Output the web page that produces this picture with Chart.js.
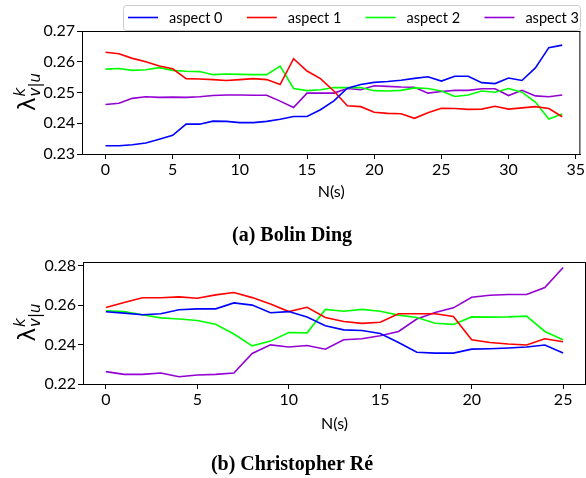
<!DOCTYPE html>
<html>
<head>
<meta charset="utf-8">
<script src="https://cdn.jsdelivr.net/npm/chart.js@4.4.0/dist/chart.umd.min.js"></script>
<style>
  body { margin: 0; background: #fff; }
  #wrap { position: relative; width: 586px; height: 478px; }
  canvas { position: absolute; left: 0; }
</style>
</head>
<body>
<div id="wrap">
  <canvas id="chart-a" width="586" height="250" style="top:0"></canvas>
  <canvas id="chart-b" width="586" height="228" style="top:250px"></canvas>
</div>
<script>
// series names + colours
const seriesLabels = ["aspect 0", "aspect 1", "aspect 2", "aspect 3"];
const seriesColors = ["#0000ff", "#ff0000", "#00ff00", "#9400d3"];

// (a) Bolin Ding, N(s) = 0..34
const dingAspect0 = [0.2327, 0.2327, 0.2330, 0.2336, 0.2348, 0.2361, 0.2397, 0.2397, 0.2407, 0.2406,
  0.2402, 0.2402, 0.2406, 0.2413, 0.2422, 0.2422, 0.2444, 0.2473, 0.2514, 0.2526,
  0.2533, 0.2536, 0.2540, 0.2546, 0.2551, 0.2537, 0.2553, 0.2553, 0.2532, 0.2529,
  0.2547, 0.2539, 0.2580, 0.2646, 0.2654];
const dingAspect1 = [0.2631, 0.2626, 0.2611, 0.2600, 0.2586, 0.2577, 0.2545, 0.2544, 0.2542, 0.2539,
  0.2542, 0.2545, 0.2542, 0.2526, 0.2610, 0.2570, 0.2545, 0.2505, 0.2457, 0.2454,
  0.2436, 0.2432, 0.2431, 0.2416, 0.2434, 0.2449, 0.2448, 0.2445, 0.2446, 0.2455,
  0.2446, 0.2450, 0.2454, 0.2448, 0.2421];
const dingAspect2 = [0.2576, 0.2578, 0.2572, 0.2574, 0.2581, 0.2572, 0.2569, 0.2568, 0.2558, 0.2560,
  0.2559, 0.2558, 0.2558, 0.2586, 0.2513, 0.2506, 0.2509, 0.2516, 0.2516, 0.2516,
  0.2506, 0.2505, 0.2507, 0.2515, 0.2513, 0.2505, 0.2487, 0.2492, 0.2505, 0.2501,
  0.2513, 0.2501, 0.2469, 0.2414, 0.2430];
const dingAspect3 = [0.2461, 0.2465, 0.2481, 0.2486, 0.2484, 0.2485, 0.2484, 0.2486, 0.2490, 0.2492,
  0.2492, 0.2491, 0.2491, 0.2472, 0.2451, 0.2498, 0.2498, 0.2498, 0.2513, 0.2509,
  0.2522, 0.2520, 0.2518, 0.2517, 0.2498, 0.2503, 0.2507, 0.2507, 0.2512, 0.2512,
  0.2490, 0.2507, 0.2489, 0.2486, 0.2492];
const dingXTicks = [0, 5, 10, 15, 20, 25, 30, 35];
const dingYTicks = [0.23, 0.24, 0.25, 0.26, 0.27];

// (b) Christopher Ré, N(s) = 0..25
const reAspect0 = [0.2567, 0.2560, 0.2552, 0.2557, 0.2577, 0.2582, 0.2582, 0.2612, 0.2601, 0.2562,
  0.2568, 0.2540, 0.2496, 0.2475, 0.2472, 0.2457, 0.2411, 0.2361, 0.2357, 0.2357,
  0.2377, 0.2379, 0.2383, 0.2388, 0.2398, 0.2357];
const reAspect1 = [0.2589, 0.2614, 0.2638, 0.2638, 0.2643, 0.2636, 0.2653, 0.2665, 0.2639, 0.2607,
  0.2568, 0.2590, 0.2538, 0.2518, 0.2508, 0.2514, 0.2557, 0.2557, 0.2557, 0.2543,
  0.2425, 0.2411, 0.2403, 0.2398, 0.2430, 0.2415];
const reAspect2 = [0.2572, 0.2568, 0.2552, 0.2536, 0.2530, 0.2523, 0.2504, 0.2454, 0.2394, 0.2418,
  0.2462, 0.2460, 0.2579, 0.2570, 0.2579, 0.2570, 0.2550, 0.2538, 0.2509, 0.2503,
  0.2541, 0.2540, 0.2541, 0.2545, 0.2467, 0.2425];
const reAspect3 = [0.2263, 0.2249, 0.2249, 0.2256, 0.2237, 0.2246, 0.2249, 0.2256, 0.2355, 0.2399,
  0.2388, 0.2396, 0.2377, 0.2425, 0.2430, 0.2445, 0.2467, 0.2530, 0.2563, 0.2587,
  0.2641, 0.2651, 0.2655, 0.2655, 0.2690, 0.2792];
const reXTicks = [0, 5, 10, 15, 20, 25];
const reYTicks = [0.22, 0.24, 0.26, 0.28];

const tickFont = { family: "Lato", size: 16 };

const toPoints = (arr) => arr.map((v, i) => ({ x: i, y: v }));

const buildDatasets = (seriesList) =>
  seriesList.map((arr, i) => ({
    label: seriesLabels[i],
    data: toPoints(arr),
    borderColor: seriesColors[i],
    backgroundColor: seriesColors[i],
    borderWidth: 1.6,
    pointRadius: 0,
    tension: 0,
    fill: false,
  }));

// top + right spines (chart.js only draws left/bottom borders)
const framePlugin = {
  id: "frame",
  afterDatasetsDraw(chart) {
    const { ctx, chartArea: a } = chart;
    ctx.save();
    ctx.strokeStyle = "#000";
    ctx.lineWidth = 1;
    ctx.beginPath();
    ctx.moveTo(a.left, a.top + 0.5);
    ctx.lineTo(a.right, a.top + 0.5);
    ctx.moveTo(a.right - 0.5, a.top);
    ctx.lineTo(a.right - 0.5, a.bottom);
    ctx.stroke();
    ctx.restore();
  },
};

// rotated lambda^k_{v|u} axis label + caption underneath
const textPlugin = {
  id: "texts",
  afterDraw(chart, args, opts) {
    const { ctx, chartArea: a } = chart;
    ctx.save();
    ctx.fillStyle = "#000";
    ctx.textBaseline = "alphabetic";
    ctx.translate(opts.labelX, (a.top + a.bottom) / 2);
    ctx.rotate(-Math.PI / 2);
    ctx.font = "23px 'DejaVu Sans'";
    const lw = ctx.measureText("λ").width;
    ctx.font = "italic 15px 'DejaVu Sans'";
    const sw = ctx.measureText("v|u").width;
    const start = -(lw + sw) / 2;
    ctx.font = "23px 'DejaVu Sans'";
    ctx.fillText("λ", start, 0);
    ctx.font = "italic 15px 'DejaVu Sans'";
    ctx.fillText("k", start + lw + 1, -10);
    ctx.fillText("v|u", start + lw + 1, 5);
    ctx.restore();

    ctx.save();
    ctx.fillStyle = "#000";
    ctx.font = "bold 20px 'Liberation Serif'";
    ctx.textAlign = "center";
    ctx.textBaseline = "middle";
    ctx.fillText(opts.caption, 292, opts.captionY);
    ctx.restore();
  },
};

// matplotlib-like framed legend above the top plot
const boxLegendPlugin = {
  id: "boxLegend",
  afterDraw(chart) {
    const { ctx } = chart;
    ctx.save();
    ctx.fillStyle = "rgba(255,255,255,0.85)";
    ctx.strokeStyle = "#cccccc";
    ctx.lineWidth = 1;
    ctx.beginPath();
    ctx.roundRect(123.5, 5.5, 457, 25, 3);
    ctx.fill();
    ctx.stroke();
    ctx.font = "14.5px Lato";
    ctx.textBaseline = "middle";
    chart.data.datasets.forEach((ds, i) => {
      const x0 = 128 + i * 118.8;
      ctx.strokeStyle = ds.borderColor;
      ctx.lineWidth = 1.6;
      ctx.beginPath();
      ctx.moveTo(x0, 17.5);
      ctx.lineTo(x0 + 30, 17.5);
      ctx.stroke();
      ctx.fillStyle = "#000";
      ctx.fillText(ds.label, x0 + 41, 18);
    });
    ctx.restore();
  },
};

const makeChart = (canvasId, seriesList, xRange, yRange, xTicks, yTicks, layout, texts, extraPlugins) =>
  new Chart(document.getElementById(canvasId), {
    type: "line",
    data: { datasets: buildDatasets(seriesList) },
    options: {
      responsive: false,
      animation: false,
      devicePixelRatio: 1,
      layout: { padding: layout.padding },
      plugins: {
        legend: { display: false },
        tooltip: { enabled: false },
        texts: texts,
      },
      scales: {
        x: {
          type: "linear",
          min: xRange[0],
          max: xRange[1],
          afterBuildTicks: (scale) => { scale.ticks = xTicks.map((v) => ({ value: v })); },
          afterFit: (scale) => { scale.height = layout.xHeight; },
          ticks: { font: tickFont, color: "#000", padding: 1, maxRotation: 0 },
          grid: { drawOnChartArea: false, drawTicks: true, tickLength: 5, color: "#000" },
          border: { display: true, color: "#000", width: 1 },
          title: { display: true, text: "N(s)", font: tickFont, color: "#000", padding: { top: 0, bottom: 3 } },
        },
        y: {
          min: yRange[0],
          max: yRange[1],
          afterBuildTicks: (scale) => { scale.ticks = yTicks.map((v) => ({ value: v })); },
          afterFit: (scale) => { scale.width = layout.yWidth; },
          ticks: { font: tickFont, color: "#000", padding: 2, callback: (v) => v.toFixed(2) },
          grid: { drawOnChartArea: false, drawTicks: true, tickLength: 5, color: "#000" },
          border: { display: true, color: "#000", width: 1 },
        },
      },
    },
    plugins: [framePlugin, textPlugin].concat(extraPlugins),
  });

const chartA = makeChart(
  "chart-a",
  [dingAspect0, dingAspect1, dingAspect2, dingAspect3],
  [-1.75, 35.35],
  [0.23, 0.27],
  dingXTicks,
  dingYTicks,
  { padding: { top: 31, left: 0, right: 4, bottom: 46 }, xHeight: 50, yWidth: 82 },
  { labelX: 35, caption: "(a) Bolin Ding", captionY: 236 },
  [boxLegendPlugin]
);

const chartB = makeChart(
  "chart-b",
  [reAspect0, reAspect1, reAspect2, reAspect3],
  [-1.25, 26.25],
  [0.22, 0.282],
  reXTicks,
  reYTicks,
  { padding: { top: 12, left: 0, right: 0, bottom: 42 }, xHeight: 52, yWidth: 83 },
  { labelX: 35, caption: "(b) Christopher Ré", captionY: 215 },
  []
);
</script>
</body>
</html>
